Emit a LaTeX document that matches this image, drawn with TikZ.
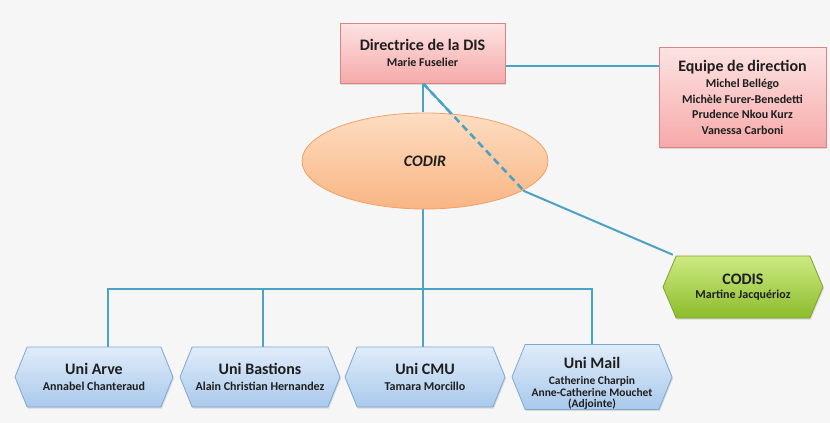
\documentclass[tikz,border=0pt]{standalone}
\usepackage{fontspec}
\setmainfont{Carlito}
\usetikzlibrary{shapes.geometric,shapes.symbols,calc,shadows}
\pgfdeclarelayer{bg}
\pgfdeclarelayer{lines}
\pgfsetlayers{bg,lines,main}
\definecolor{bgc}{HTML}{F6F6F6}
\definecolor{linec}{HTML}{4AA2C4}
\definecolor{txt}{HTML}{1E1E1E}
\definecolor{pinkt}{HTML}{FDE3E3}
\definecolor{pinkb}{HTML}{F6A9A9}
\definecolor{pinkd}{HTML}{DA8585}
\definecolor{peacht}{HTML}{FDDDC2}
\definecolor{peachb}{HTML}{F9B583}
\definecolor{peachd}{HTML}{EFA264}
\definecolor{greent}{HTML}{CDEA82}
\definecolor{greenb}{HTML}{8CBC2C}
\definecolor{greend}{HTML}{7DA52A}
\definecolor{bluet}{HTML}{E0ECF9}
\definecolor{blueb}{HTML}{A9C9EC}
\definecolor{blued}{HTML}{7DA8D6}
\newcommand\ttlfont{\fontsize{16}{18}\selectfont}
\begin{document}
\begin{tikzpicture}[x=1pt,y=-1pt,
  every node/.style={text=txt, font=\bfseries\fontsize{12}{15.5}\selectfont, align=center, inner sep=0pt},
  shd/.style={drop shadow={shadow xshift=1pt,shadow yshift=-1.5pt,opacity=0.25}},
  pinkbox/.style={rectangle, draw=pinkd, line width=0.8pt, top color=pinkt, bottom color=pinkb, shd},
  codirshape/.style={ellipse, draw=peachd, line width=0.8pt, top color=peacht, bottom color=peachb},
  greenhex/.style={signal, signal to=east and west, signal pointer angle=134, draw=greend, line width=0.8pt, top color=greent, bottom color=greenb, shd},
  bluehex/.style={signal, signal to=east and west, signal pointer angle=136, draw=blued, line width=0.8pt, top color=bluet, bottom color=blueb, minimum height=60pt, shd},
  conn/.style={draw=linec, line width=2pt},
  dashconn/.style={draw=linec, line width=2.6pt, dash pattern=on 7pt off 4.5pt}
]
\begin{pgfonlayer}{bg}
\fill[bgc] (0,0) rectangle (830,423);
\end{pgfonlayer}
\useasboundingbox (0,0) rectangle (830,423);

\node[pinkbox, minimum width=165pt, minimum height=60pt] (dir) at (422.5,53)
  {{\ttlfont Directrice de la DIS}\\[1pt]Marie Fuselier};
\node[pinkbox, minimum width=167pt, minimum height=100pt] (equipe) at (742.5,97)
  {{\ttlfont Equipe de direction}\\[1pt]Michel Bellégo\\Michèle Furer-Benedetti\\Prudence Nkou Kurz\\Vanessa Carboni};
\node[codirshape, minimum width=246pt, minimum height=96pt] (codir) at (425,161)
  {\ttlfont\itshape CODIR};
\node[greenhex, minimum width=160pt, minimum height=62pt] (codis) at (743,287)
  {{\ttlfont CODIS}\\[-1pt]Martine Jacquérioz};

\node[bluehex, minimum width=158pt] (arve) at (94,377)
  {{\ttlfont Uni Arve}\\[1pt]Annabel Chanteraud};
\node[bluehex, minimum width=160pt] (bastions) at (260,377)
  {{\ttlfont Uni Bastions}\\[1pt]Alain Christian Hernandez};
\node[bluehex, minimum width=160pt] (cmu) at (425,377)
  {{\ttlfont Uni CMU}\\[1pt]Tamara Morcillo};
\node[bluehex, minimum width=160pt, font=\bfseries\fontsize{11.5}{11.5}\selectfont] (mail) at (592,377)
  {{\ttlfont\rule{0pt}{24pt}Uni Mail}\\[4.5pt]Catherine Charpin\\Anne-Catherine Mouchet\\(Adjointe)};

\coordinate (k) at (524,191);
\coordinate (bus) at (423,289);
\coordinate (codisin) at ([xshift=-3pt,yshift=1pt]codis.north west);

\begin{pgfonlayer}{lines}
\draw[conn] (dir.east |- 0,66) -- (equipe.west |- 0,66);
\draw[conn] (dir.south -| 423,0) -- (423,112);
\draw[conn] (dir.south -| 423,0) -- (k) -- (codisin);
\draw[conn] (codir.south -| bus) -- (bus);
\draw[conn] ([xshift=14pt]arve.north) |- (bus);
\draw[conn] (bus) -| (mail.north);
\draw[conn] ([xshift=3pt]bastions.north) -- ([xshift=3pt]bastions.north |- bus);
\draw[conn] (bus) -- (bus |- cmu.north);
\end{pgfonlayer}
\draw[dashconn] (dir.south -| 423,0) -- (k);
\end{tikzpicture}
\end{document}
